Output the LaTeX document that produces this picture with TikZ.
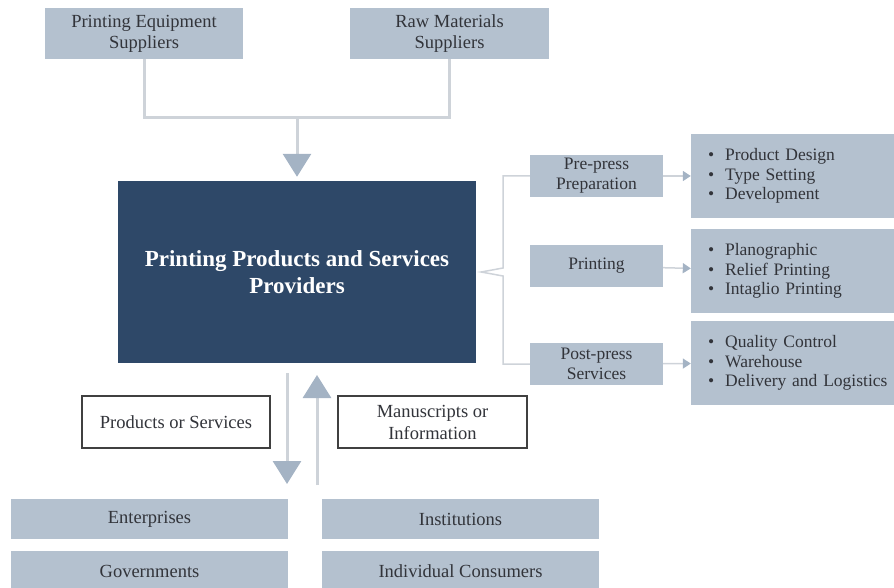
\documentclass[tikz,border=0pt]{standalone}
\usepackage{fontspec}
\setmainfont{Liberation Serif}
\usepackage{tikz}
\usetikzlibrary{positioning}
\usetikzlibrary{arrows.meta}

\definecolor{boxgrey}{RGB}{180,193,207}
\definecolor{navy}{RGB}{46,72,104}
\definecolor{linegrey}{RGB}{206,211,217}
\definecolor{headgrey}{RGB}{164,179,196}
\definecolor{inkgrey}{RGB}{50,52,58}

% one bulleted line in the right-hand lists
\newcommand{\bul}{\hspace*{17pt}\textbullet\hspace{11pt}}

\begin{document}
\begin{tikzpicture}[x=1pt,y=-1pt,
    box/.style={rectangle,fill=boxgrey,text=inkgrey,align=center,inner sep=0pt,
      font=\fontsize{18.5}{21}\selectfont},
    stage/.style={box,minimum width=133pt,minimum height=42pt,
      font=\fontsize{17.5}{20}\selectfont},
    list/.style={box,minimum width=203pt,minimum height=84pt,text width=203pt,
      align=left,font=\fontsize{17.5}{19.5}\selectfont},
    client/.style={box,minimum width=277pt,minimum height=40pt},
    tag/.style={rectangle,draw=black!75,line width=1.2pt,fill=white,text=inkgrey,
      align=center,inner sep=0pt,minimum width=188pt,minimum height=52pt,
      font=\fontsize{18.5}{22}\selectfont},
    feed/.style={line width=3pt,draw=linegrey},
    big/.style={feed,-{Triangle[width=28pt,length=23pt,color=headgrey]}},
    thin/.style={line width=1.5pt,draw=linegrey},
    pointer/.style={thin,-{Triangle[width=10pt,length=8pt,color=headgrey]}}]
  \useasboundingbox (0,0) rectangle (894,588);

  % suppliers
  \node[box,minimum width=198pt,minimum height=51pt] (Equipment) at (144,33.5) {Printing Equipment\\Suppliers};
  \node[box,minimum width=199pt,minimum height=51pt] (Materials) at (449.5,33.5) {Raw Materials\\Suppliers};

  \node[fill=navy,text=white,minimum width=358pt,minimum height=182pt,inner sep=0pt,align=center,
        font=\fontsize{23}{27}\selectfont\bfseries] (Provider) at (297,272) {Printing Products and Services\\Providers};

  \coordinate (Join) at (297,118);
  \draw[feed] (Equipment) |- (Join) -| (Materials);
  \draw[big,shorten >=4pt] (Join) -- (Provider);

  % process stages
  \node[stage] (Prepress)  at (596.5,176) {Pre-press\\Preparation};
  \node[stage] (Printing)  at (596.5,266) {Printing};
  \node[stage] (Postpress) at (596.5,364) {Post-press\\Services};

  \node[list] (PreList)   at (792.5,176) {\bul Product Design\\\bul Type Setting\\\bul Development};
  \node[list] (PrintList) at (792.5,271) {\bul Planographic\\\bul Relief Printing\\\bul Intaglio Printing};
  \node[list] (PostList)  at (792.5,363) {\bul Quality Control\\\bul Warehouse\\\bul Delivery and Logistics};

  \coordinate (Tip) at ([xshift=5pt]Provider.east);
  \draw[thin] (Prepress.west) -| (503,268) -- (Tip) -- (503,276) |- (Postpress.west);

  \path (Prepress)  edge[pointer] (PreList)
        (Printing)  edge[pointer] (PrintList)
        (Postpress) edge[pointer] (PostList);

  % customers
  \node[tag] (Products) at (176,422) {Products or Services};
  \node[tag,minimum width=189pt] (Manuscripts) at (432.5,422) {Manuscripts or\\Information};

  \node[client] (Enterprises)  at (149.5,519) {Enterprises};
  \node[client] (Institutions) at (460.5,519) {Institutions};
  \node[client,below=12pt of Enterprises]  (Governments) {Governments};
  \node[client,below=12pt of Institutions] (Consumers)   {Individual Consumers};

  \coordinate (OutTop) at (287,373);
  \coordinate (OutEnd) at (287,484);
  \coordinate (InEnd)  at (317,485);
  \coordinate (InTop)  at (317,375);
  \draw[big] (OutTop) -- (OutEnd);
  \draw[big] (InEnd) -- (InTop);
\end{tikzpicture}
\end{document}
